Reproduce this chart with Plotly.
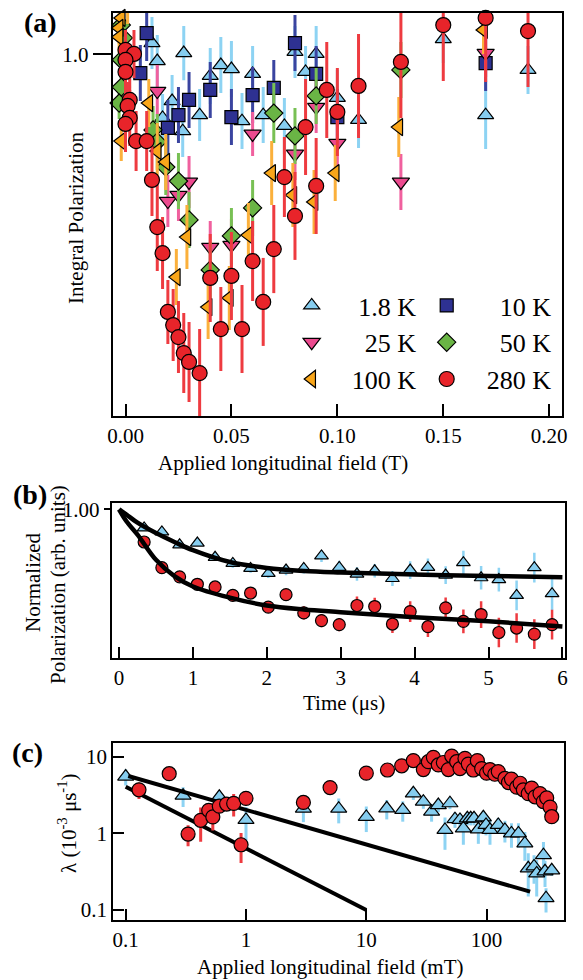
import plotly.graph_objects as go

FONT = "Liberation Serif"

# ---------------- Panel (a): integral polarization vs field (T) ----------------
a_18K_x = [0.0125, 0.015, 0.0175, 0.022, 0.027, 0.0275, 0.035, 0.040, 0.045, 0.050, 0.055,
           0.060, 0.065, 0.075, 0.080, 0.085, 0.090, 0.100, 0.110, 0.150, 0.170, 0.190]
a_18K_y = [1.028, 0.983, 0.841, 0.883, 0.808, 1.003, 0.848, 0.946, 0.973, 0.963, 0.833,
           0.951, 0.848, 0.821, 1.006, 0.956, 1.001, 0.891, 0.836, 1.038, 0.848, 0.961]
a_18K_e = [0.065, 0.065, 0.06, 0.065, 0.065, 0.068, 0.065, 0.07, 0.07, 0.07, 0.07,
           0.07, 0.07, 0.07, 0.065, 0.065, 0.07, 0.07, 0.07, 0.06, 0.085, 0.06]

a_10K_x = [0.007, 0.010, 0.020, 0.025, 0.030, 0.040, 0.050, 0.060, 0.070, 0.080, 0.090, 0.100, 0.170]
a_10K_y = [0.953, 1.053, 0.816, 0.848, 0.886, 0.911, 0.843, 0.898, 0.916, 1.028, 0.951, 0.843, 0.978]
a_10K_e = [0.07, 0.07, 0.07, 0.07, 0.07, 0.07, 0.07, 0.07, 0.07, 0.07, 0.07, 0.07, 0.07]

a_25K_x = [0.015, 0.020, 0.025, 0.030, 0.040, 0.050, 0.060, 0.080, 0.090, 0.100, 0.130, 0.170]
a_25K_y = [0.908, 0.633, 0.648, 0.681, 0.518, 0.523, 0.801, 0.751, 0.868, 0.778, 0.681, 1.003]
a_25K_e = [0.065, 0.065, 0.065, 0.065, 0.065, 0.065, 0.055, 0.065, 0.065, 0.065, 0.07, 0.06]

a_50K_x = [-0.002, -0.001, -0.002, -0.002, -0.003, 0.013, 0.015, 0.019, 0.025, 0.030, 0.040,
           0.050, 0.060, 0.070, 0.080, 0.090, 0.130]
a_50K_y = [1.073, 1.041, 0.986, 0.918, 0.878, 0.811, 0.781, 0.718, 0.683, 0.586, 0.461,
           0.546, 0.616, 0.853, 0.796, 0.896, 0.961]
a_50K_e = [0.04, 0.04, 0.04, 0.04, 0.04, 0.06, 0.07, 0.07, 0.07, 0.07, 0.07,
           0.07, 0.07, 0.075, 0.07, 0.07, 0.07]

a_100K_x = [0.001, -0.002, -0.003, -0.003, 0.011, -0.002, 0.015, 0.019, 0.024, 0.029, 0.039,
            0.049, 0.058, 0.069, 0.079, 0.089, 0.099, 0.129, 0.169]
a_100K_y = [1.116, 1.091, 1.066, 1.043, 0.878, 0.783, 0.758, 0.731, 0.443, 0.543, 0.368,
            0.391, 0.548, 0.703, 0.648, 0.631, 0.703, 0.818, 1.061]
a_100K_e = [0.04, 0.04, 0.04, 0.04, 0.06, 0.05, 0.07, 0.07, 0.07, 0.08, 0.08,
            0.08, 0.08, 0.08, 0.08, 0.08, 0.07, 0.075, 0.06]

a_280K_x = [0.000, 0.004, 0.000, 0.000, 0.002, 0.001, 0.002, 0.000, 0.005, 0.010, 0.0125,
            0.015, 0.0175, 0.020, 0.0225, 0.025, 0.0275, 0.030, 0.035, 0.040, 0.045, 0.050,
            0.055, 0.060, 0.065, 0.070, 0.075, 0.080, 0.085, 0.090, 0.095, 0.100, 0.110,
            0.130, 0.150, 0.170, 0.190]
a_280K_y = [1.011, 1.001, 0.986, 0.956, 0.886, 0.871, 0.841, 0.826, 0.783, 0.783, 0.686,
            0.568, 0.503, 0.356, 0.323, 0.293, 0.253, 0.231, 0.203, 0.441, 0.313, 0.446,
            0.313, 0.483, 0.381, 0.513, 0.693, 0.596, 0.818, 0.671, 0.911, 0.856, 0.921,
            0.981, 1.073, 1.091, 1.058]
a_280K_e = [0.05, 0.06, 0.05, 0.06, 0.06, 0.06, 0.07, 0.07, 0.075, 0.075, 0.09,
            0.11, 0.09, 0.08, 0.09, 0.09, 0.10, 0.10, 0.11, 0.11, 0.105, 0.11,
            0.11, 0.10, 0.11, 0.11, 0.10, 0.11, 0.12, 0.12, 0.12, 0.11, 0.13,
            0.14, 0.14, 0.16, 0.14]

# ---------------- Panel (b): normalized polarization vs time ----------------
b_t = [0.34, 0.58, 0.82, 1.06, 1.30, 1.54, 1.78, 2.02, 2.26, 2.50, 2.74, 2.98,
       3.22, 3.46, 3.70, 3.94, 4.18, 4.42, 4.66, 4.90, 5.14, 5.38, 5.62, 5.86]
b_blue = [0.875, 0.848, 0.761, 0.773, 0.677, 0.636, 0.602, 0.568, 0.591, 0.602, 0.686, 0.609,
          0.564, 0.586, 0.534, 0.591, 0.609, 0.557, 0.641, 0.539, 0.527, 0.420, 0.607, 0.432]
b_blue_e = [0.02, 0.02, 0.02, 0.02, 0.025, 0.03, 0.03, 0.03, 0.035, 0.035, 0.04, 0.045,
            0.045, 0.045, 0.05, 0.06, 0.06, 0.06, 0.08, 0.08, 0.08, 0.10, 0.10, 0.11]
b_red = [0.780, 0.607, 0.545, 0.495, 0.477, 0.420, 0.436, 0.341, 0.425, 0.302, 0.250, 0.223,
         0.352, 0.345, 0.227, 0.311, 0.209, 0.336, 0.245, 0.291, 0.170, 0.200, 0.159, 0.223]
b_red_e = [0.02, 0.02, 0.025, 0.025, 0.03, 0.03, 0.03, 0.035, 0.035, 0.045, 0.045, 0.045,
           0.06, 0.06, 0.06, 0.07, 0.07, 0.07, 0.08, 0.09, 0.10, 0.10, 0.10, 0.10]
b_fit_t = [0, 0.1, 0.25, 0.5, 0.75, 1.0, 1.5, 2.0, 2.5, 3.0, 4.0, 5.0, 6.0]
b_fit_blue = [1.0, 0.965, 0.91, 0.84, 0.78, 0.725, 0.645, 0.605, 0.585, 0.575, 0.561, 0.551, 0.543]
b_fit_red = [1.0, 0.92, 0.83, 0.66, 0.55, 0.48, 0.405, 0.352, 0.325, 0.307, 0.273, 0.245, 0.211]

# ---------------- Panel (c): lambda vs field (mT) ----------------
c_red_x = [0.129, 0.23, 0.33, 0.42, 0.49, 0.53, 0.60, 0.69, 0.79, 0.91, 1.0, 3.0, 5.0, 10,
           15, 19.7, 24.6, 29.8, 32.8, 36.1, 39.7, 43.7, 48.1, 51.3, 56.4, 60.1, 66.1, 70.5,
           77.6, 83.8, 91, 100, 106.7, 117, 125, 142, 152, 161, 178, 190, 202, 222, 237,
           253, 278, 296, 316, 337, 348]
c_red_y = [3.7, 6.0, 0.98, 1.48, 2.0, 1.64, 2.26, 2.41, 2.46, 0.71, 2.86, 2.53, 3.96, 6.1,
           6.7, 7.6, 8.9, 6.8, 8.6, 9.8, 7.8, 8.4, 6.8, 10.2, 8.6, 7.0, 9.5, 8.0,
           6.7, 8.9, 7.0, 6.1, 6.8, 5.9, 6.4, 5.2, 4.6, 5.1, 4.0, 4.5, 3.7, 3.3, 3.9,
           3.0, 3.3, 2.6, 2.9, 2.2, 1.65]
c_red_e = [0.9, 0.4, 0.3, 0.7, 0.3, 0.55, 0.3, 0.3, 0.8, 0.3, 0.3, 0.3, 0.6, 0.4,
           0.4, 0.4, 0.4, 0.4, 0.4, 0.4, 0.4, 0.4, 0.4, 0.4, 0.4, 0.4, 0.4, 0.4,
           0.4, 0.4, 0.4, 0.4, 0.4, 0.4, 0.4, 0.3, 0.3, 0.3, 0.3, 0.3, 0.3, 0.3, 0.3,
           0.3, 0.3, 0.2, 0.2, 0.2, 0.2]
c_blue_x = [0.1, 0.3, 0.6, 1.0, 3.0, 5.9, 10, 14.8, 20.1, 24.6, 29.8, 34.9, 39.7, 45.1,
            49.6, 54.6, 60.1, 64.1, 69.2, 73.8, 78.6, 85.4, 94, 98.9, 106.7, 125, 142,
            161, 184, 208, 222, 248, 261, 297, 306, 348, 312]
c_blue_y = [5.5, 3.1, 3.0, 1.5, 2.1, 2.1, 1.64, 2.12, 2.02, 3.33, 2.59, 1.92, 2.34, 1.11,
            2.47, 1.53, 1.50, 1.16, 1.57, 1.57, 1.57, 1.13, 1.62, 1.29, 1.11, 1.29, 1.11,
            1.0, 1.0, 0.74, 0.35, 0.37, 0.30, 0.52, 0.32, 0.33, 0.143]
c_blue_e = [1.3, 0.9, 0.6, 0.7, 0.7, 0.75, 0.6, 0.6, 0.6, 0.6, 0.5, 0.5, 0.45, 0.5,
            0.4, 0.35, 0.3, 0.45, 0.3, 0.3, 0.3, 0.4, 0.35, 0.35, 0.4, 0.3, 0.35,
            0.35, 0.35, 0.3, 0.2, 0.15, 0.15, 0.25, 0.12, 0.05, 0.05]
c_line1_x = [0.105, 230]
c_line1_y = [5.6, 0.174]
c_line2_x = [0.1, 10]
c_line2_y = [4.06, 0.1]

# ---------------- styles ----------------
LBLUE, LBLUE_E = "#86CDEF", "#8DD3F3"
NAVY, NAVY_E = "#2E3192", "#3A44A0"
PINK, PINK_E = "#EC4A8F", "#F0609E"
GREEN, GREEN_E = "#6AB545", "#78C054"
ORANGE, ORANGE_E = "#F9A61A", "#FBB03B"
RED, RED_E = "#E8242A", "#EE3B40"
MLINE = dict(color="black", width=1.2)

fig = go.Figure()


def add_a(x, y, e, name, symbol, size, color, ecolor, legend):
    fig.add_trace(go.Scatter(
        x=x, y=y, mode="markers", name=name, cliponaxis=False, legend=legend,
        marker=dict(symbol=symbol, size=size, color=color, line=MLINE),
        error_y=dict(type="data", array=e, thickness=3, width=0, color=ecolor),
        xaxis="x", yaxis="y"))


add_a(a_18K_x, a_18K_y, a_18K_e, "\u20051.8 K", "triangle-up", 14, LBLUE, LBLUE_E, "legend")
add_a(a_10K_x, a_10K_y, a_10K_e, "\u200210 K", "square", 13, NAVY, NAVY_E, "legend2")
add_a(a_25K_x, a_25K_y, a_25K_e, "\u200225 K", "triangle-down", 15, PINK, PINK_E, "legend")
add_a(a_50K_x, a_50K_y, a_50K_e, "\u200250 K", "diamond", 14, GREEN, GREEN_E, "legend2")
add_a(a_100K_x, a_100K_y, a_100K_e, "100 K", "triangle-left", 15, ORANGE, ORANGE_E, "legend")
add_a(a_280K_x, a_280K_y, a_280K_e, "280 K", "circle", 15, RED, RED_E, "legend2")

# panel (b)
fig.add_trace(go.Scatter(x=b_t, y=b_blue, mode="markers", showlegend=False,
                         marker=dict(symbol="triangle-up", size=12, color=LBLUE, line=MLINE),
                         error_y=dict(type="data", array=b_blue_e, thickness=2.5, width=0, color=LBLUE_E),
                         xaxis="x2", yaxis="y2"))
fig.add_trace(go.Scatter(x=b_t, y=b_red, mode="markers", showlegend=False,
                         marker=dict(symbol="circle", size=12, color=RED, line=MLINE),
                         error_y=dict(type="data", array=b_red_e, thickness=2.5, width=0, color=RED_E),
                         xaxis="x2", yaxis="y2"))
fig.add_trace(go.Scatter(x=b_fit_t, y=b_fit_blue, mode="lines", showlegend=False,
                         line=dict(color="black", width=4.5, shape="spline"),
                         xaxis="x2", yaxis="y2"))
fig.add_trace(go.Scatter(x=b_fit_t, y=b_fit_red, mode="lines", showlegend=False,
                         line=dict(color="black", width=4.5, shape="spline"),
                         xaxis="x2", yaxis="y2"))

# panel (c)
fig.add_trace(go.Scatter(x=c_blue_x, y=c_blue_y, mode="markers", showlegend=False, cliponaxis=False,
                         marker=dict(symbol="triangle-up", size=14, color=LBLUE, line=MLINE),
                         error_y=dict(type="data", array=c_blue_e, thickness=3, width=0, color=LBLUE_E),
                         xaxis="x3", yaxis="y3"))
fig.add_trace(go.Scatter(x=c_line1_x, y=c_line1_y, mode="lines", showlegend=False,
                         line=dict(color="black", width=4),
                         xaxis="x3", yaxis="y3"))
fig.add_trace(go.Scatter(x=c_line2_x, y=c_line2_y, mode="lines", showlegend=False,
                         line=dict(color="black", width=4),
                         xaxis="x3", yaxis="y3"))
fig.add_trace(go.Scatter(x=c_red_x, y=c_red_y, mode="markers", showlegend=False, cliponaxis=False,
                         marker=dict(symbol="circle", size=14, color=RED, line=MLINE),
                         error_y=dict(type="data", array=c_red_e, thickness=3, width=0, color=RED_E),
                         xaxis="x3", yaxis="y3"))

W, H = 583, 980
TICKF = dict(family=FONT, size=21, color="black")
axis_common = dict(showline=True, mirror=True, linecolor="black", linewidth=2.2,
                   showgrid=False, zeroline=False, tickwidth=2.2, tickcolor="black",
                   tickfont=TICKF, automargin=False)


def px(v):
    return v / W


def py(v):
    return 1 - v / H


LEGF = dict(family=FONT, size=26, color="black")
fig.update_layout(
    width=W, height=H, margin=dict(l=0, r=0, t=0, b=0, autoexpand=False),
    paper_bgcolor="white", plot_bgcolor="white",
    font=dict(family=FONT, color="black"),
    xaxis=dict(domain=[px(112.7), px(561.7)], range=[-0.00604, 0.2059],
               tickvals=[0, 0.05, 0.10, 0.15, 0.20], ticktext=["0.00", "0.05", "0.10", "0.15", "0.20"],
               ticks="inside", ticklen=12, anchor="y", **axis_common),
    yaxis=dict(domain=[py(416), py(12.7)], range=[0.0958, 1.104],
               tickvals=[1.0], ticktext=["1.0"], ticks="outside", ticklen=18,
               anchor="x", **axis_common),
    xaxis2=dict(domain=[px(111.7), px(565)], range=[-0.099, 6.035],
                tickvals=[0, 1, 2, 3, 4, 5, 6], ticks="inside", ticklen=11,
                anchor="y2", **axis_common),
    yaxis2=dict(domain=[py(657.7), py(503.3)], range=[0.0, 1.041],
                tickvals=[1.0], ticktext=["1.00"], ticks="outside", ticklen=6,
                anchor="x2", **axis_common),
    xaxis3=dict(domain=[px(113.3), px(564.3)], type="log", range=[-1.103, 2.646],
                tickvals=[0.1, 1, 10, 100], ticktext=["0.1", "1", "10", "100"],
                ticks="inside", ticklen=11, anchor="y3", **axis_common),
    yaxis3=dict(domain=[py(920), py(742.5)], type="log", range=[-1.13, 1.185],
                tickvals=[0.1, 1, 10], ticktext=["0.1", "1", "10"],
                ticks="inside", ticklen=11, anchor="x3", **axis_common),
    legend=dict(orientation="v", x=px(271.7), y=py(282), xanchor="left", yanchor="top",
                bgcolor="rgba(0,0,0,0)", font=LEGF, traceorder="normal", tracegroupgap=0,
                itemwidth=70),
    legend2=dict(orientation="v", x=px(406.7), y=py(282), xanchor="left", yanchor="top",
                 bgcolor="rgba(0,0,0,0)", font=LEGF, traceorder="normal", tracegroupgap=0,
                 itemwidth=70),
    showlegend=True,
)

TITLEF = dict(family=FONT, size=21, color="black")
ann = [
    dict(text="<b>(a)</b>", x=px(40), y=py(23), font=dict(family=FONT, size=28)),
    dict(text="<b>(b)</b>", x=px(30), y=py(495), font=dict(family=FONT, size=28)),
    dict(text="<b>(c)</b>", x=px(27), y=py(752), font=dict(family=FONT, size=28)),
    dict(text="Applied longitudinal field (T)", x=px(283), y=py(463), font=TITLEF),
    dict(text="Integral Polarization", x=px(76), y=py(218), font=TITLEF, textangle=-90),
    dict(text="Time (μs)", x=px(344), y=py(703), font=TITLEF),
    dict(text="Normalized", x=px(33), y=py(582), font=TITLEF, textangle=-90),
    dict(text="Polarization (arb. units)", x=px(58), y=py(585), font=TITLEF, textangle=-90),
    dict(text="Applied longitudinal field (mT)", x=px(330), y=py(967), font=TITLEF),
    dict(text="λ (10<sup>-3</sup> μs<sup>-1</sup>)", x=px(67), y=py(823), font=TITLEF, textangle=-90),
]
for a in ann:
    a.update(xref="paper", yref="paper", showarrow=False, xanchor="center", yanchor="middle")
fig.update_layout(annotations=ann)

fig.write_html("out.html", config={"displayModeBar": False},
               post_script="document.body.style.margin='0px';document.body.style.padding='0px';")
